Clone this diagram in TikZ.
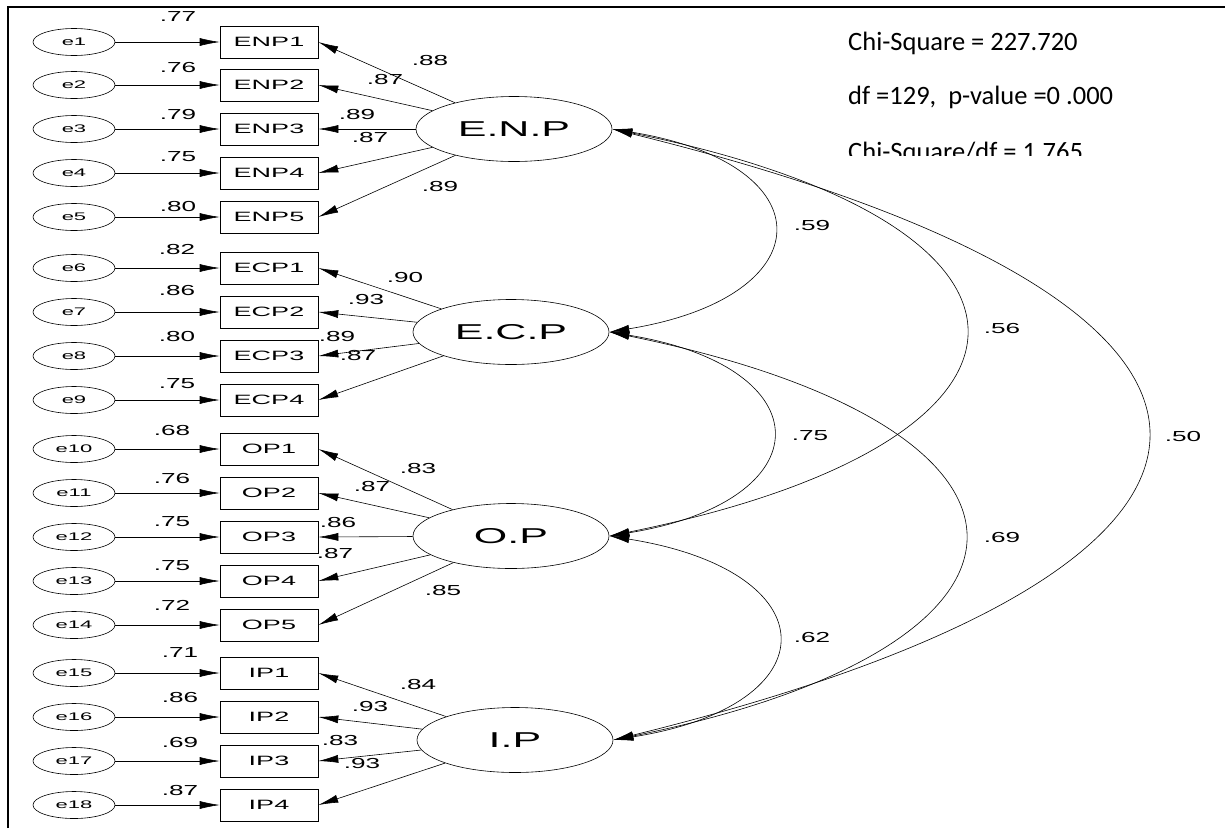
\documentclass[tikz,border=0pt]{standalone}
\usepackage{fontspec}
\setmainfont{Liberation Sans}
\newfontfamily\amos[FakeStretch=2.0]{Liberation Sans}
\newfontfamily\amosn[FakeStretch=1.8]{Liberation Sans}
\newfontfamily\calib{Carlito}
\usetikzlibrary{arrows.meta,calc,shapes.geometric}
\begin{document}
\begin{tikzpicture}[x=1pt,y=-1pt,
  err/.style={ellipse,draw,line width=0.6pt,minimum width=82pt,minimum height=27pt,inner sep=0pt,font=\amos\fontsize{11}{12}\selectfont},
  obs/.style={rectangle,draw,line width=0.6pt,minimum width=98pt,minimum height=32pt,inner sep=0pt,font=\amos\fontsize{13.5}{15}\selectfont},
  lat/.style={ellipse,draw,line width=0.6pt,minimum width=196pt,minimum height=65pt,inner sep=0pt,font=\amos\fontsize{21.5}{24}\selectfont},
  coef/.style={inner sep=0pt,font=\amosn\fontsize{14.5}{16}\selectfont},
  stat/.style={inner sep=0pt,anchor=west,font=\calib\fontsize{26.5}{29}\selectfont},
  arr/.style={-{Latex[length=20pt,width=8pt]},line width=0.6pt},
  cov/.style={{Latex[length=20pt,width=8pt]}-{Latex[length=20pt,width=8pt]},line width=0.6pt}]
\useasboundingbox (0,0) rectangle (1225,828);
\draw[line width=2pt] (8,828) -- (8,7) -- (1225,7);

% latent variables
\node[lat] (ENP) at (514,129) {E.N.P};
\node[lat] (ECP) at (511,332) {E.C.P};
\node[lat] (OP)  at (511,536) {O.P};
\node[lat] (IP)  at (515,740) {I.P};

% errors and indicators
\foreach \n/\y/\b in {1/42/ENP1,2/85/ENP2,3/129/ENP3,4/173/ENP4,5/217/ENP5,
  6/268/ECP1,7/312/ECP2,8/356/ECP3,9/400/ECP4,
  10/449/OP1,11/493/OP2,12/537/OP3,13/581/OP4,14/625/OP5,
  15/673/IP1,16/717/IP2,17/761/IP3,18/805/IP4}{
  \node[err] (e\n) at (74,\y) {e\n};
  \node[obs] (\b) at (269,\y) {\b};
  \draw[arr] (e\n) -- (\b);
}

% loadings
\foreach \b in {ENP1,ENP2,ENP3,ENP4,ENP5} \draw[arr] (ENP) -- (\b.east);
\foreach \b in {ECP1,ECP2,ECP3,ECP4} \draw[arr] (ECP) -- (\b.east);
\foreach \b in {OP1,OP2,OP3,OP4,OP5} \draw[arr] (OP) -- (\b.east);
\foreach \b in {IP1,IP2,IP3,IP4} \draw[arr] (IP) -- (\b.east);

% error labels
\foreach \k/\x/\y/\t in {1/178/17/.77,2/178/68/.76,3/178/115/.79,4/178/157/.75,5/178/207/.80,
  6/177/250/.82,7/177/291/.86,8/177/337/.80,9/177/384/.75,
  10/172/430/.68,11/172/478/.76,12/172/522/.75,13/172/566/.75,14/172/605/.72,
  15/180/652/.71,16/180/697/.86,17/180/742/.69,18/180/790/.87}
  \node[coef] (r\k) at (\x,\y) {\t};

% loading labels
\foreach \k/\x/\y/\t in {1/430/61/.88,2/385/80/.87,3/357/115/.89,4/370/138/.87,5/440/187/.89,
  6/405/278/.90,7/366/300/.93,8/337/337/.89,9/358/356/.87,
  10/418/468/.83,11/372/486/.87,12/338/522/.86,13/335/553/.87,14/443/590/.85,
  15/418/684/.84,16/370/706/.93,17/340/740/.83,18/362/763/.93}
  \node[coef] (l\k) at (\x,\y) {\t};

% covariances
\draw[cov] (ENP.east) .. controls ($(ENP.east)+(215,35)$) and ($(ECP.east)+(215,-35)$) .. (ECP.east);
\draw[cov] (ENP.east) .. controls ($(ENP.east)+(470,95)$) and ($(OP.east)+(470,-95)$) .. (OP.east);
\draw[cov] (ENP.east) .. controls ($(ENP.east)+(710,175)$) and ($(IP.east)+(710,-175)$) .. (IP.east);
\draw[cov] (ECP.east) .. controls ($(ECP.east)+(215,35)$) and ($(OP.east)+(215,-35)$) .. (OP.east);
\draw[cov] (ECP.east) .. controls ($(ECP.east)+(468,95)$) and ($(IP.east)+(468,-95)$) .. (IP.east);
\draw[cov] (OP.east) .. controls ($(OP.east)+(220,35)$) and ($(IP.east)+(220,-35)$) .. (IP.east);

\node[coef] (c1) at (812,226) {.59};
\node[coef] (c2) at (1002,328) {.56};
\node[coef] (c3) at (1183,436) {.50};
\node[coef] (c4) at (810,436) {.75};
\node[coef] (c5) at (1002,537) {.69};
\node[coef] (c6) at (812,637) {.62};

% fit statistics
\node[stat] (s1) at (848,43) {Chi-Square = 227.720};
\node[stat] (s2) at (848,97) {df =129,\ \ p-value =0 .000};
\begin{scope}
  \clip (840,120) rectangle (1225,155);
  \node[stat] (s3) at (848,153) {Chi-Square/df = 1.765};
\end{scope}
\end{tikzpicture}
\end{document}
